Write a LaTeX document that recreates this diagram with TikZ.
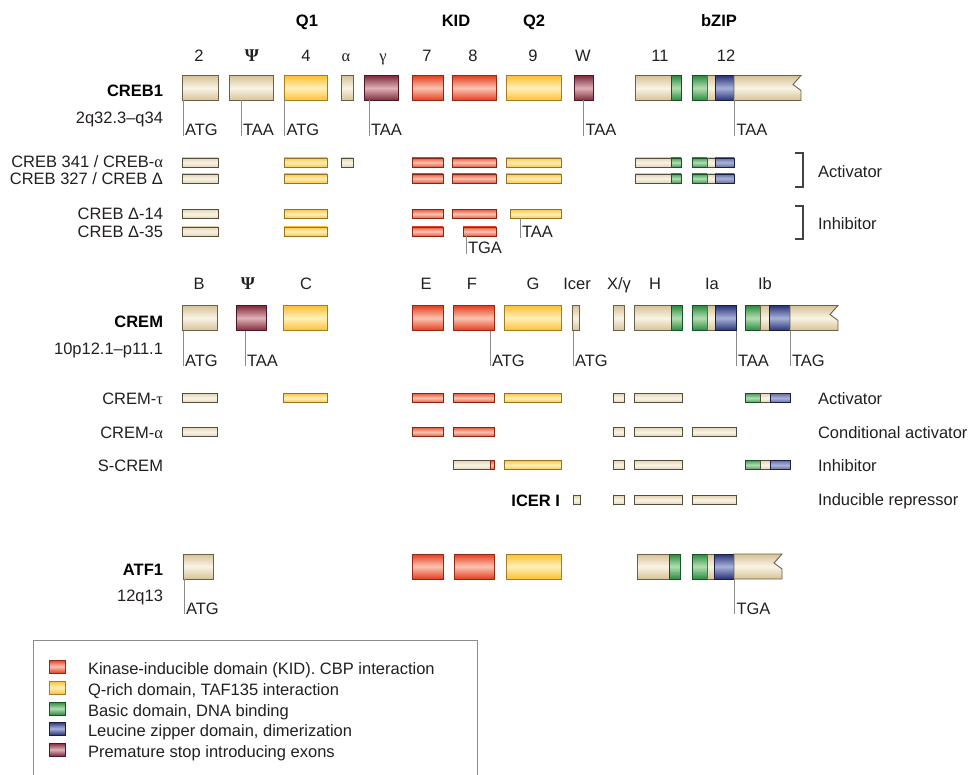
\documentclass[tikz,border=0pt]{standalone}
\usepackage{fontspec}
\setmainfont{Liberation Sans}
\newfontfamily\grk{Liberation Serif}
\usepackage{tikz}

\definecolor{ink}{RGB}{35,31,32}
\definecolor{kidD}{RGB}{228,62,30}
\definecolor{kidL}{RGB}{250,196,178}
\definecolor{glnD}{RGB}{252,192,52}
\definecolor{glnL}{RGB}{255,240,185}
\definecolor{basD}{RGB}{42,138,62}
\definecolor{basL}{RGB}{178,222,178}
\definecolor{zipD}{RGB}{40,50,120}
\definecolor{zipL}{RGB}{168,178,216}
\definecolor{stpD}{RGB}{128,40,58}
\definecolor{stpL}{RGB}{222,178,184}
\definecolor{begD}{RGB}{214,194,150}
\definecolor{begL}{RGB}{249,244,230}

\newcommand{\lblfont}{\fontsize{16.5}{19}\selectfont}

\begin{document}
\begin{tikzpicture}[x=1pt,y=-1pt]
    \tikzstyle{exon}=[inner sep=0pt, outer sep=0pt, line width=0.9pt]
    \tikzstyle{exonbox}=[exon, minimum height=25pt]
    \tikzstyle{isobar}=[exon, minimum height=9pt]
    \tikzstyle{begfill}=[top color=begD, bottom color=begD, middle color=begL, draw=begD!50!black]
    \tikzstyle{kidfill}=[top color=kidD, bottom color=kidD, middle color=kidL, draw=kidD!65!black]
    \tikzstyle{glnfill}=[top color=glnD, bottom color=glnD, middle color=glnL, draw=glnD!65!black]
    \tikzstyle{basfill}=[top color=basD, bottom color=basD, middle color=basL, draw=basD!60!black]
    \tikzstyle{zipfill}=[top color=zipD, bottom color=zipD, middle color=zipL, draw=zipD!60!black]
    \tikzstyle{stpfill}=[top color=stpD, bottom color=stpD, middle color=stpL, draw=stpD!60!black]
    \tikzstyle{begpale}=[top color=begD!70!white, bottom color=begD!70!white, middle color=begL, draw=begD!40!black]
    \tikzstyle{kidpale}=[top color=kidD!85!white, bottom color=kidD!85!white, middle color=kidL, draw=kidD!60!black]
    \tikzstyle{glnpale}=[top color=glnD!90!white, bottom color=glnD!90!white, middle color=glnL, draw=glnD!60!black]
    \tikzstyle{baspale}=[top color=basD!85!white, bottom color=basD!85!white, middle color=basL, draw=basD!60!black]
    \tikzstyle{zippale}=[top color=zipD!70!white, bottom color=zipD!70!white, middle color=zipL, draw=zipD!60!black]
    \tikzstyle{txt}=[font=\lblfont, text=ink, inner sep=0pt, outer sep=0pt]
    \tikzstyle{gene}=[txt, font=\lblfont\bfseries, text=black, anchor=base east]
    \tikzstyle{iso}=[txt, anchor=base east]
    \tikzstyle{role}=[txt, anchor=base west]
    \tikzstyle{head}=[txt, anchor=base]
    \tikzstyle{dom}=[head, font=\lblfont\bfseries, text=black]
    \tikzstyle{codon}=[txt, anchor=base west, inner xsep=2pt]
    \tikzstyle{cutline}=[draw=black!45, line width=0.8pt]
    \tikzstyle{brk}=[draw=ink!85, line width=1.2pt]

    \useasboundingbox (0,0) rectangle (971,775);

    % domain and exon headers
    \node[dom] (q1)   at (307,27) {Q1};
    \node[dom] (kid)  at (456,27) {KID};
    \node[dom] (q2)   at (534,27) {Q2};
    \node[dom] (bzip) at (719,27) {bZIP};

    \node[head] (h2)   at (199,61.5) {2};
    \node[head] (hPsi) at (252,61.5) {\grk\bfseries\fontsize{18}{19}\selectfont Ψ};
    \node[head] (h4)   at (306,61.5) {4};
    \node[head] (hA)   at (346,61.5) {\grk α};
    \node[head] (hG)   at (383,61.5) {\grk γ};
    \node[head] (h7)   at (427,61.5) {7};
    \node[head] (h8)   at (473,61.5) {8};
    \node[head] (h9)   at (533,61.5) {9};
    \node[head] (hW)   at (583,61.5) {W};
    \node[head] (h11)  at (660,61.5) {11};
    \node[head] (h12)  at (726,61.5) {12};

    % CREB1
    \node[gene] (creb) at (163,97) {CREB1};
    \node[iso] (crebloc) at (163,124) {2q32.3–q34};

    \node[exonbox, begfill, minimum width=36pt] (c2)   at (200,88) {};
    \node[exonbox, begfill, minimum width=44pt] (cPsi) at (251,88) {};
    \node[exonbox, glnfill, minimum width=43pt] (c4)   at (305.5,88) {};
    \node[exonbox, begfill, minimum width=12pt] (cA)   at (347,88) {};
    \node[exonbox, stpfill, minimum width=34pt] (cG)   at (381,88) {};
    \node[exonbox, kidfill, minimum width=31pt] (c7)   at (427.5,88) {};
    \node[exonbox, kidfill, minimum width=44pt] (c8)   at (474,88) {};
    \node[exonbox, glnfill, minimum width=55pt] (c9)   at (533.5,88) {};
    \node[exonbox, stpfill, minimum width=19pt] (cW)   at (583.5,88) {};
    \node[exonbox, begfill, minimum width=36pt] (c11)  at (653,88) {};
    \node[exonbox, basfill, minimum width=10pt] (c11b) at (676,88) {};
    \node[exonbox, basfill, minimum width=15pt] (c12a) at (699.5,88) {};
    \node[exonbox, begfill, minimum width=8pt]  (c12b) at (711,88) {};
    \node[exonbox, zipfill, minimum width=19pt] (c12c) at (724.5,88) {};
    \path[exon, begfill] (c12c.north east) -- (801,75.5) -- (793,84.5) -- (801,90.5)
        -- (801,100.5) -- (c12c.south east) -- cycle;

    \node[codon] (k1) at (183,136) {ATG};
    \node[codon] (k2) at (241,136) {TAA};
    \node[codon] (k3) at (284.5,136) {ATG};
    \node[codon] (k4) at (369,136) {TAA};
    \node[codon] (k5) at (583.5,136) {TAA};
    \node[codon] (k6) at (734.5,136) {TAA};
    \draw[cutline] (k1.base west) -- (k1.base west |- c2.south);
    \draw[cutline] (k2.base west) -- (k2.base west |- cPsi.south);
    \draw[cutline] (k3.base west) -- (k3.base west |- c4.south);
    \draw[cutline] (k4.base west) -- (k4.base west |- cG.south);
    \draw[cutline] (k5.base west) -- (k5.base west |- cW.south);
    \draw[cutline] (k6.base west) -- (k6.base west |- c12c.south);

    % CREB isoforms
    \node[iso] (creba) at (163,168) {CREB 341 / CREB-{\grk α}};
    \node[iso] (crebb) at (163,185) {CREB 327 / CREB Δ};
    \node[iso] (crebc) at (163,220) {CREB Δ-14};
    \node[iso] (crebd) at (163,238) {CREB Δ-35};

    \node[isobar, begpale, minimum width=36pt] (ca2)   at (200,162.5) {};
    \node[isobar, glnpale, minimum width=43pt] (ca4)   at (305.5,162.5) {};
    \node[isobar, begpale, minimum width=12pt] (caA)   at (347,162.5) {};
    \node[isobar, kidpale, minimum width=31pt] (ca7)   at (427.5,162.5) {};
    \node[isobar, kidpale, minimum width=44pt] (ca8)   at (474,162.5) {};
    \node[isobar, glnpale, minimum width=55pt] (ca9)   at (533.5,162.5) {};
    \node[isobar, begpale, minimum width=36pt] (ca11)  at (653,162.5) {};
    \node[isobar, baspale, minimum width=10pt] (ca11b) at (676,162.5) {};
    \node[isobar, baspale, minimum width=15pt] (ca12a) at (699.5,162.5) {};
    \node[isobar, begpale, minimum width=8pt]  (ca12b) at (711,162.5) {};
    \node[isobar, zippale, minimum width=19pt] (ca12c) at (724.5,162.5) {};

    \node[isobar, begpale, minimum width=36pt] (cb2)   at (200,178.5) {};
    \node[isobar, glnpale, minimum width=43pt] (cb4)   at (305.5,178.5) {};
    \node[isobar, kidpale, minimum width=31pt] (cb7)   at (427.5,178.5) {};
    \node[isobar, kidpale, minimum width=44pt] (cb8)   at (474,178.5) {};
    \node[isobar, glnpale, minimum width=55pt] (cb9)   at (533.5,178.5) {};
    \node[isobar, begpale, minimum width=36pt] (cb11)  at (653,178.5) {};
    \node[isobar, baspale, minimum width=10pt] (cb11b) at (676,178.5) {};
    \node[isobar, baspale, minimum width=15pt] (cb12a) at (699.5,178.5) {};
    \node[isobar, begpale, minimum width=8pt]  (cb12b) at (711,178.5) {};
    \node[isobar, zippale, minimum width=19pt] (cb12c) at (724.5,178.5) {};

    \node[isobar, begpale, minimum width=36pt] (cc2) at (200,214) {};
    \node[isobar, glnpale, minimum width=43pt] (cc4) at (305.5,214) {};
    \node[isobar, kidpale, minimum width=31pt] (cc7) at (427.5,214) {};
    \node[isobar, kidpale, minimum width=44pt] (cc8) at (474,214) {};
    \node[isobar, glnpale, minimum width=51pt] (cc9) at (535.5,214) {};

    \node[isobar, begpale, minimum width=36pt] (cd2) at (200,231.5) {};
    \node[isobar, glnpale, minimum width=43pt] (cd4) at (305.5,231.5) {};
    \node[isobar, kidpale, minimum width=31pt] (cd7) at (427.5,231.5) {};
    \node[isobar, kidpale, minimum width=33pt] (cd8) at (479.5,231.5) {};

    \node[codon] (k7) at (520,238) {TAA};
    \node[codon] (k8) at (466,254) {TGA};
    \draw[cutline] (k7.base west) -- (k7.base west |- cc9.south);
    \draw[cutline] (k8.base west) -- (k8.base west |- cd8.south);

    \draw[brk] (795,153) -| (803,187) -- (795,187);
    \draw[brk] (795,206) -| (803,239) -- (795,239);
    \node[role] (act1) at (818,178) {Activator};
    \node[role] (inh1) at (818,230) {Inhibitor};

    % CREM
    \node[head] (eB)    at (199,290) {B};
    \node[head] (ePsi)  at (248,290) {\grk\bfseries\fontsize{18}{19}\selectfont Ψ};
    \node[head] (eC)    at (306,290) {C};
    \node[head] (eE)    at (426,290) {E};
    \node[head] (eF)    at (472,290) {F};
    \node[head] (eG)    at (533,290) {G};
    \node[head] (eIcer) at (577,290) {Icer};
    \node[head] (eX)    at (619,290) {X/γ};
    \node[head] (eH)    at (655,290) {H};
    \node[head] (eIa)   at (712,290) {Ia};
    \node[head] (eIb)   at (765,290) {Ib};

    \node[gene] (crem) at (163,327) {CREM};
    \node[iso] (cremloc) at (163,354) {10p12.1–p11.1};

    \node[exonbox, begfill, minimum width=35pt] (mB)   at (199.5,318) {};
    \node[exonbox, stpfill, minimum width=30pt] (mPsi) at (251,318) {};
    \node[exonbox, glnfill, minimum width=44pt] (mC)   at (305,318) {};
    \node[exonbox, kidfill, minimum width=31pt] (mE)   at (427.5,318) {};
    \node[exonbox, kidfill, minimum width=41pt] (mF)   at (473.5,318) {};
    \node[exonbox, glnfill, minimum width=57pt] (mG)   at (532.5,318) {};
    \node[exonbox, begfill, minimum width=7pt]  (mI)   at (575.5,318) {};
    \node[exonbox, begfill, minimum width=11pt] (mX)   at (618.5,318) {};
    \node[exonbox, begfill, minimum width=37pt] (mH)   at (652.5,318) {};
    \node[exonbox, basfill, minimum width=11pt] (mHb)  at (676.5,318) {};
    \node[exonbox, basfill, minimum width=15pt] (mIa1) at (699.5,318) {};
    \node[exonbox, begfill, minimum width=8pt]  (mIa2) at (711,318) {};
    \node[exonbox, zipfill, minimum width=21pt] (mIa3) at (725.5,318) {};
    \node[exonbox, basfill, minimum width=15pt] (mIb1) at (752.5,318) {};
    \node[exonbox, begfill, minimum width=9pt]  (mIb2) at (764.5,318) {};
    \node[exonbox, zipfill, minimum width=21pt] (mIb3) at (779.5,318) {};
    \path[exon, begfill] (mIb3.north east) -- (838,305.5) -- (830,314.5) -- (838,320.5)
        -- (838,330.5) -- (mIb3.south east) -- cycle;

    \node[codon] (n1) at (183,366) {ATG};
    \node[codon] (n2) at (245,366) {TAA};
    \node[codon] (n3) at (490,366) {ATG};
    \node[codon] (n4) at (573,366) {ATG};
    \node[codon] (n5) at (736,366) {TAA};
    \node[codon] (n6) at (790,366) {TAG};
    \draw[cutline] (n1.base west) -- (n1.base west |- mB.south);
    \draw[cutline] (n2.base west) -- (n2.base west |- mPsi.south);
    \draw[cutline] (n3.base west) -- (n3.base west |- mF.south);
    \draw[cutline] (n4.base west) -- (n4.base west |- mI.south);
    \draw[cutline] (n5.base west) -- (n5.base west |- mIa3.south);
    \draw[cutline] (n6.base west) -- (n6.base west |- mIb3.south);

    % CREM isoforms
    \node[iso] (cremt) at (163,404) {CREM-{\grk τ}};
    \node[iso] (crema) at (163,438) {CREM-{\grk α}};
    \node[iso] (screm) at (163,471) {S-CREM};
    \node[gene] (icer) at (560,506) {ICER I};

    \node[isobar, begpale, minimum width=35pt] (mtB)   at (199.5,398) {};
    \node[isobar, glnpale, minimum width=44pt] (mtC)   at (305,398) {};
    \node[isobar, kidpale, minimum width=31pt] (mtE)   at (427.5,398) {};
    \node[isobar, kidpale, minimum width=41pt] (mtF)   at (473.5,398) {};
    \node[isobar, glnpale, minimum width=57pt] (mtG)   at (532.5,398) {};
    \node[isobar, begpale, minimum width=11pt] (mtX)   at (618.5,398) {};
    \node[isobar, begpale, minimum width=48pt] (mtH)   at (658,398) {};
    \node[isobar, baspale, minimum width=15pt] (mtIb1) at (752.5,398) {};
    \node[isobar, begpale, minimum width=10pt] (mtIb2) at (765,398) {};
    \node[isobar, zippale, minimum width=20pt] (mtIb3) at (780,398) {};

    \node[isobar, begpale, minimum width=35pt] (maB)  at (199.5,432) {};
    \node[isobar, kidpale, minimum width=31pt] (maE)  at (427.5,432) {};
    \node[isobar, kidpale, minimum width=41pt] (maF)  at (473.5,432) {};
    \node[isobar, begpale, minimum width=11pt] (maX)  at (618.5,432) {};
    \node[isobar, begpale, minimum width=48pt] (maH)  at (658,432) {};
    \node[isobar, begpale, minimum width=44pt] (maIa) at (714,432) {};

    \node[isobar, begpale, minimum width=37pt] (msF)   at (471.5,465) {};
    \node[isobar, kidpale, minimum width=4pt]  (msFr)  at (492,465) {};
    \node[isobar, glnpale, minimum width=57pt] (msG)   at (532.5,465) {};
    \node[isobar, begpale, minimum width=11pt] (msX)   at (618.5,465) {};
    \node[isobar, begpale, minimum width=48pt] (msH)   at (658,465) {};
    \node[isobar, baspale, minimum width=15pt] (msIb1) at (752.5,465) {};
    \node[isobar, begpale, minimum width=10pt] (msIb2) at (765,465) {};
    \node[isobar, zippale, minimum width=20pt] (msIb3) at (780,465) {};

    \node[isobar, begpale, minimum width=7pt]  (miI)  at (576.5,500) {};
    \node[isobar, begpale, minimum width=11pt] (miX)  at (618.5,500) {};
    \node[isobar, begpale, minimum width=48pt] (miH)  at (658,500) {};
    \node[isobar, begpale, minimum width=44pt] (miIa) at (714,500) {};

    \node[role] (act2) at (818,404) {Activator};
    \node[role] (cond) at (818,438) {Conditional activator};
    \node[role] (inh2) at (818,471) {Inhibitor};
    \node[role] (rep)  at (818,505) {Inducible repressor};

    % ATF1
    \node[gene] (atf) at (163,575) {ATF1};
    \node[iso] (atfloc) at (163,601) {12q13};

    \node[exonbox, begfill, minimum width=30pt] (fB)   at (198,566.5) {};
    \node[exonbox, kidfill, minimum width=31pt] (fE)   at (427.5,566.5) {};
    \node[exonbox, kidfill, minimum width=40pt] (fF)   at (474,566.5) {};
    \node[exonbox, glnfill, minimum width=55pt] (fG)   at (533.5,566.5) {};
    \node[exonbox, begfill, minimum width=32pt] (f11)  at (653,566.5) {};
    \node[exonbox, basfill, minimum width=11pt] (f11b) at (674.5,566.5) {};
    \node[exonbox, basfill, minimum width=15pt] (f12a) at (699.5,566.5) {};
    \node[exonbox, begfill, minimum width=7pt]  (f12b) at (710.5,566.5) {};
    \node[exonbox, zipfill, minimum width=20pt] (f12c) at (724,566.5) {};
    \path[exon, begfill] (f12c.north east) -- (782,554) -- (774,563) -- (782,569)
        -- (782,579) -- (f12c.south east) -- cycle;

    \node[codon] (p1) at (184,614) {ATG};
    \node[codon] (p2) at (734.5,614) {TGA};
    \draw[cutline] (p1.base west) -- (p1.base west |- fB.south);
    \draw[cutline] (p2.base west) -- (p2.base west |- f12c.south);

    % legend
    \draw[draw=black!45, line width=0.9pt] (33,776) -- (33,640) -- (477,640) -- (477,776);
    \node[exon, kidfill, minimum width=16pt, minimum height=13pt] (lk) at (57,666.5) {};
    \node[exon, glnfill, minimum width=16pt, minimum height=13pt] (lq) at (57,687.5) {};
    \node[exon, basfill, minimum width=16pt, minimum height=13pt] (lb) at (57,708.5) {};
    \node[exon, zipfill, minimum width=16pt, minimum height=13pt] (lz) at (57,728.5) {};
    \node[exon, stpfill, minimum width=16pt, minimum height=13pt] (ls) at (57,749.5) {};
    \node[role] (tk) at (88,674) {Kinase-inducible domain (KID). CBP interaction};
    \node[role] (tq) at (88,695) {Q-rich domain, TAF135 interaction};
    \node[role] (tb) at (88,716) {Basic domain, DNA binding};
    \node[role] (tz) at (88,736) {Leucine zipper domain, dimerization};
    \node[role] (ts) at (88,757) {Premature stop introducing exons};

\end{tikzpicture}
\end{document}
